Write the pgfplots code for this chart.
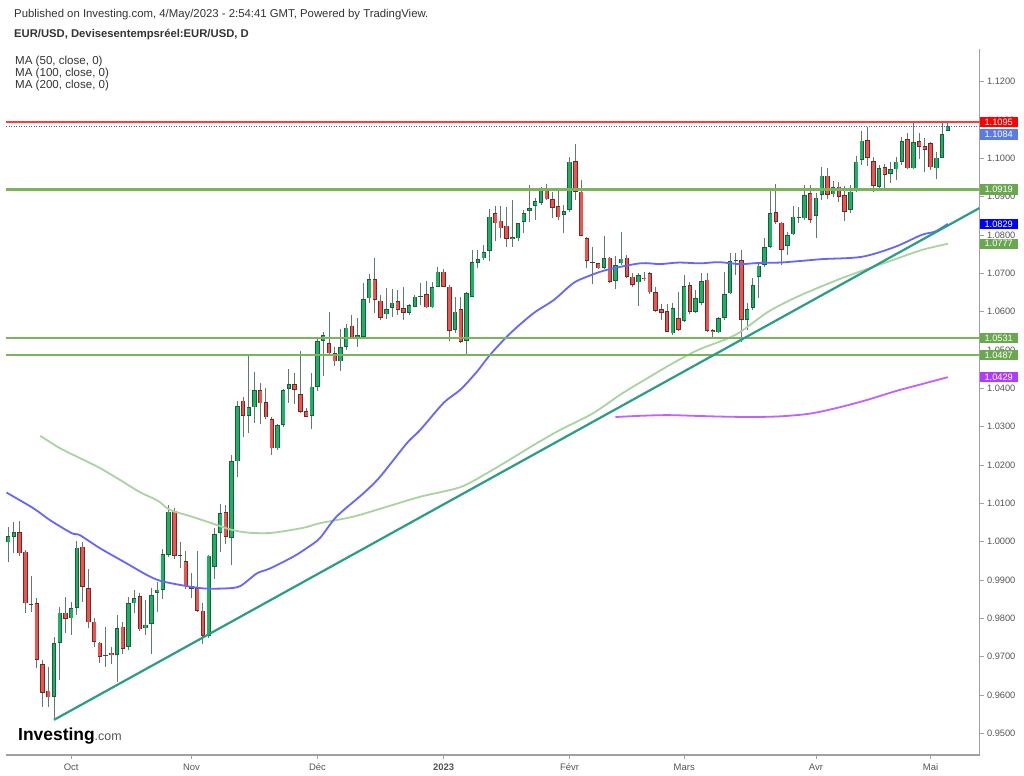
\documentclass[border=0pt]{standalone}
\usepackage{pgfplots}
\usepackage{pgfplotstable}
\pgfplotsset{compat=1.18}
\usepackage{fontspec}
\setmainfont{Liberation Sans}

\definecolor{upfill}{HTML}{1DB263}
\definecolor{upedge}{HTML}{1B5E3B}
\definecolor{dnfill}{HTML}{F0524D}
\definecolor{dnedge}{HTML}{6B2B29}
\definecolor{wick}{HTML}{5E7A6B}
\definecolor{ma50}{HTML}{6666FF}
\definecolor{ma100}{HTML}{A9D3A0}
\definecolor{ma200}{HTML}{C261FF}
\definecolor{trend}{HTML}{2A9D85}
\definecolor{hgreen}{HTML}{7AB55C}
\definecolor{hred}{HTML}{FF3B3B}
\definecolor{dotblue}{HTML}{3A5BFF}
\definecolor{lblgreen}{HTML}{6AA84F}
\definecolor{lblblue}{HTML}{5B7BE0}
\definecolor{lblpurple}{HTML}{B03CFF}
\definecolor{axgray}{HTML}{A0A0A0}
\definecolor{tickgray}{HTML}{555555}
\definecolor{txt}{HTML}{333333}

\pgfplotstableread{
i o h l c
0 0.9998 1.0039 0.9948 1.0015
1 1.0013 1.0052 0.9969 1.0024
8 0.9595 0.9752 0.9535 0.9735
9 0.9735 0.9830 0.9639 0.9815
11 0.9800 0.9843 0.9756 0.9826
12 0.9828 1.0002 0.9809 0.9984
17 0.9702 0.9778 0.9674 0.9705
19 0.9704 0.9809 0.9635 0.9775
21 0.9726 0.9855 0.9717 0.9839
22 0.9839 0.9875 0.9813 0.9852
24 0.9774 0.9848 0.9756 0.9783
25 0.9785 0.9878 0.9707 0.9861
26 0.9867 0.9895 0.9817 0.9875
27 0.9874 0.9980 0.9849 0.9967
28 0.9965 1.0096 0.9961 1.0078
35 0.9754 0.9965 0.9748 0.9963
36 0.9935 1.0035 0.9902 1.0020
37 1.0022 1.0098 0.9974 1.0074
39 1.0009 1.0226 0.9939 1.0209
40 1.0209 1.0367 1.0168 1.0354
42 1.0328 1.0485 1.0283 1.0350
43 1.0350 1.0442 1.0309 1.0396
47 1.0243 1.0307 1.0239 1.0303
48 1.0304 1.0399 1.0300 1.0396
49 1.0398 1.0450 1.0361 1.0410
53 1.0328 1.0439 1.0293 1.0404
54 1.0404 1.0535 1.0393 1.0523
55 1.0524 1.0548 1.0432 1.0539
58 1.0470 1.0554 1.0446 1.0507
59 1.0509 1.0568 1.0500 1.0558
61 1.0532 1.0583 1.0509 1.0539
62 1.0535 1.0674 1.0533 1.0632
63 1.0635 1.0698 1.0623 1.0684
66 1.0593 1.0661 1.0580 1.0606
67 1.0609 1.0658 1.0587 1.0623
70 1.0597 1.0620 1.0591 1.0617
71 1.0613 1.0643 1.0611 1.0639
72 1.0639 1.0674 1.0617 1.0641
74 1.0611 1.0678 1.0609 1.0663
75 1.0665 1.0717 1.0663 1.0704
78 1.0552 1.0639 1.0543 1.0600
80 1.0524 1.0652 1.0487 1.0648
81 1.0639 1.0762 1.0637 1.0729
82 1.0728 1.0760 1.0714 1.0736
83 1.0739 1.0774 1.0735 1.0756
84 1.0759 1.0869 1.0733 1.0848
88 1.0790 1.0891 1.0769 1.0794
89 1.0791 1.0832 1.0783 1.0830
90 1.0835 1.0865 1.0804 1.0856
91 1.0863 1.0930 1.0835 1.0870
92 1.0876 1.0896 1.0839 1.0889
93 1.0883 1.0926 1.0878 1.0917
97 1.0852 1.0878 1.0804 1.0863
98 1.0865 1.1004 1.0861 1.0991
104 1.0715 1.0796 1.0710 1.0739
106 1.0681 1.0745 1.0658 1.0722
107 1.0726 1.0809 1.0722 1.0738
110 1.0676 1.0700 1.0615 1.0696
116 1.0543 1.0622 1.0539 1.0609
118 1.0576 1.0696 1.0574 1.0667
120 1.0600 1.0656 1.0596 1.0635
121 1.0622 1.0700 1.0617 1.0680
124 1.0546 1.0587 1.0544 1.0583
125 1.0583 1.0703 1.0578 1.0645
126 1.0648 1.0752 1.0645 1.0732
127 1.0732 1.0752 1.0696 1.0734
129 1.0578 1.0622 1.0552 1.0607
130 1.0609 1.0687 1.0604 1.0669
131 1.0690 1.0723 1.0635 1.0720
132 1.0722 1.0791 1.0717 1.0769
133 1.0769 1.0917 1.0767 1.0856
136 1.0771 1.0809 1.0748 1.0800
137 1.0802 1.0876 1.0800 1.0848
138 1.0846 1.0874 1.0830 1.0848
139 1.0843 1.0930 1.0839 1.0904
141 1.0850 1.0909 1.0791 1.0897
142 1.0904 1.0978 1.0890 1.0955
144 1.0906 1.0942 1.0898 1.0924
147 1.0865 1.0930 1.0856 1.0913
148 1.0915 1.1006 1.0913 1.0991
149 1.0996 1.1072 1.0983 1.1046
152 1.0926 1.0983 1.0922 1.0974
154 1.0959 1.0991 1.0936 1.0971
155 1.0971 1.1004 1.0943 1.0991
156 1.0991 1.1056 1.0983 1.1045
158 1.0974 1.1097 1.0971 1.1043
162 1.0974 1.1017 1.0945 1.1002
163 1.1002 1.1096 1.1000 1.1063
164 1.1071 1.1091 1.1070 1.1084
}\upc

\pgfplotstableread{
i o h l c
2 1.0024 1.0055 0.9962 0.9969
3 0.9974 0.9978 0.9815 0.9839
4 0.9838 0.9909 0.9817 0.9836
5 0.9839 0.9852 0.9669 0.9691
6 0.9681 0.9691 0.9569 0.9606
7 0.9611 0.9672 0.9568 0.9594
10 0.9815 0.9855 0.9761 0.9798
13 0.9987 1.0000 0.9843 0.9882
14 0.9878 0.9928 0.9774 0.9789
15 0.9791 0.9800 0.9726 0.9739
16 0.9736 0.9739 0.9684 0.9700
18 0.9710 0.9726 0.9682 0.9703
20 0.9778 0.9791 0.9707 0.9721
23 0.9858 0.9867 0.9768 0.9771
29 1.0080 1.0087 0.9955 0.9963
30 0.9966 1.0000 0.9930 0.9963
31 0.9949 0.9976 0.9876 0.9883
32 0.9884 0.9917 0.9852 0.9876
33 0.9878 0.9976 0.9817 0.9820
34 0.9820 0.9839 0.9733 0.9754
38 1.0076 1.0096 0.9994 1.0013
41 1.0368 1.0378 1.0274 1.0328
44 1.0396 1.0413 1.0307 1.0361
45 1.0363 1.0400 1.0320 1.0324
46 1.0319 1.0326 1.0226 1.0243
50 1.0410 1.0439 1.0359 1.0396
51 1.0384 1.0498 1.0335 1.0339
52 1.0341 1.0348 1.0324 1.0326
56 1.0517 1.0600 1.0483 1.0491
57 1.0491 1.0509 1.0458 1.0470
60 1.0563 1.0591 1.0530 1.0533
64 1.0684 1.0739 1.0596 1.0630
65 1.0629 1.0643 1.0578 1.0584
68 1.0628 1.0657 1.0591 1.0604
69 1.0609 1.0663 1.0578 1.0596
73 1.0645 1.0681 1.0609 1.0611
76 1.0704 1.0710 1.0663 1.0665
77 1.0665 1.0670 1.0524 1.0550
79 1.0606 1.0639 1.0519 1.0522
85 1.0856 1.0876 1.0783 1.0830
86 1.0837 1.0876 1.0791 1.0817
87 1.0824 1.0872 1.0769 1.0789
94 1.0919 1.0933 1.0891 1.0893
95 1.0894 1.0913 1.0843 1.0870
96 1.0876 1.0916 1.0839 1.0846
99 1.0993 1.1037 1.0891 1.0913
100 1.0913 1.0943 1.0796 1.0797
101 1.0791 1.0794 1.0713 1.0732
102 1.0729 1.0769 1.0672 1.0727
103 1.0726 1.0728 1.0710 1.0713
105 1.0741 1.0743 1.0674 1.0678
108 1.0741 1.0748 1.0689 1.0691
109 1.0691 1.0700 1.0665 1.0669
111 1.0689 1.0704 1.0681 1.0684
112 1.0700 1.0703 1.0645 1.0650
113 1.0650 1.0663 1.0598 1.0602
114 1.0606 1.0619 1.0578 1.0597
115 1.0602 1.0619 1.0546 1.0548
117 1.0583 1.0650 1.0549 1.0552
119 1.0669 1.0676 1.0593 1.0600
122 1.0683 1.0700 1.0548 1.0549
123 1.0552 1.0555 1.0529 1.0546
128 1.0735 1.0761 1.0522 1.0578
134 1.0859 1.0932 1.0828 1.0835
135 1.0832 1.0835 1.0722 1.0761
140 1.0909 1.0930 1.0830 1.0839
143 1.0955 1.0974 1.0893 1.0904
145 1.0926 1.0939 1.0887 1.0900
146 1.0904 1.0928 1.0836 1.0861
150 1.1048 1.1081 1.0980 1.1002
151 1.0993 1.1004 1.0913 1.0928
153 1.0976 1.0984 1.0922 1.0956
157 1.1050 1.1065 1.0971 1.0974
159 1.1045 1.1067 1.0997 1.1030
160 1.1032 1.1052 1.0965 1.1022
161 1.1039 1.1043 1.0970 1.0976
}\dnc

\pgfplotstableread{
i p
-0.3 1.0128
4.4 1.0087
7.3 1.0056
11.1 1.0022
12.5 1.0017
16.0 0.9983
20.7 0.9943
24.2 0.9913
26.5 0.9898
30.0 0.9887
34.0 0.9878
38.1 0.9878
40.5 0.9884
43.4 0.9917
45.7 0.9930
49.8 0.9961
52.1 0.9983
54.4 1.0009
57.3 1.0065
62.0 1.0126
64.9 1.0169
69.6 1.0257
71.9 1.0291
76.0 1.0362
78.9 1.0396
81.8 1.0443
84.1 1.0487
87.6 1.0543
91.7 1.0596
95.2 1.0630
98.6 1.0674
101.0 1.0691
104.5 1.0709
110.3 1.0726
113.8 1.0724
117.0 1.0728
120.8 1.0726
124.0 1.0729
127.7 1.0724
131.0 1.0727
134.7 1.0728
138.2 1.0732
142.1 1.0737
149.0 1.0743
154.8 1.0769
159.4 1.0800
161.8 1.0809
164.0 1.0829
}\maA

\pgfplotstableread{
i p
5.6 1.0276
9.0 1.0244
12.5 1.0218
16.0 1.0192
19.5 1.0161
23.0 1.0129
26.2 1.0106
28.2 1.0083
32.3 1.0064
36.5 1.0043
39.2 1.0030
42.2 1.0023
46.1 1.0023
51.5 1.0036
54.4 1.0048
60.2 1.0065
66.1 1.0091
71.9 1.0117
78.9 1.0142
83.5 1.0178
87.0 1.0209
92.3 1.0257
96.3 1.0291
102.1 1.0335
106.8 1.0383
110.3 1.0415
115.5 1.0461
120.4 1.0500
126.9 1.0539
132.7 1.0600
138.2 1.0642
146.0 1.0690
154.5 1.0735
159.5 1.0761
164.0 1.0777
}\maB

\pgfplotstableread{
i p
106 1.0325
110 1.0328
115 1.0330
120 1.0328
125 1.0326
130 1.0325
135 1.0327
140 1.0334
145 1.0350
150 1.0370
155 1.0393
160 1.0413
164 1.0429
}\maC

\begin{document}
\begin{tikzpicture}[x=1bp,y=1bp]
\useasboundingbox (0,0) rectangle (1024,776);
\fill[white] (0,0) rectangle (1024,776);

\node[anchor=base west, inner sep=0pt, text=txt, font=\fontsize{11.4}{13}\selectfont] at (14,758) {Published on Investing.com, 4/May/2023 - 2:54:41 GMT, Powered by TradingView.};
\node[anchor=base west, inner sep=0pt, text=txt, font=\fontsize{11.3}{13}\selectfont\bfseries] at (14,738) {EUR/USD, Devisesentempsréel:EUR/USD, D};
\node[anchor=base west, inner sep=0pt, text=txt, font=\fontsize{11.6}{13}\selectfont] at (15,711) {MA (50, close, 0)};
\node[anchor=base west, inner sep=0pt, text=txt, font=\fontsize{11.6}{13}\selectfont] at (15,699) {MA (100, close, 0)};
\node[anchor=base west, inner sep=0pt, text=txt, font=\fontsize{11.6}{13}\selectfont] at (15,687) {MA (200, close, 0)};

\begin{axis}[
  at={(6bp,21bp)}, anchor=south west,
  scale only axis, width=973.5bp, height=705.7bp,
  xmin=-0.38, xmax=169.54, ymin=0.94433, ymax=1.12844,
  axis x line=bottom, axis y line=right,
  axis line style={-, draw=axgray, line width=1.3bp},
  tick align=outside, major tick length=4bp,
  tick style={draw=axgray, line width=0.8bp},
  xtick={11,32,54,76,98,118,141,161},
  xticklabels={Oct,Nov,Déc,\textbf{2023},Févr,Mars,Avr,Mai},
  xticklabel style={font=\fontsize{9.5}{11}\selectfont, text=tickgray, yshift=-1bp},
  ytick={0.95,0.96,0.97,0.98,0.99,1.00,1.01,1.02,1.03,1.04,1.05,1.06,1.07,1.08,1.09,1.10,1.11,1.12},
  yticklabels={0.9500,0.9600,0.9700,0.9800,0.9900,1.0000,1.0100,1.0200,1.0300,1.0400,1.0500,1.0600,1.0700,1.0800,1.0900,1.1000,1.1100,1.1200},
  yticklabel style={font=\fontsize{9.3}{11}\selectfont, text=tickgray},
]
% wicks
\addplot[wick, line width=1bp, quiver={u=0, v={\thisrow{h}-\thisrow{l}}}] table[x=i, y=l] {\upc};
\addplot[wick, line width=1bp, quiver={u=0, v={\thisrow{h}-\thisrow{l}}}] table[x=i, y=l] {\dnc};
% bodies: outline
\addplot[upedge, line width=4.4bp, quiver={u=0, v={\thisrow{c}-\thisrow{o}}}] table[x=i, y=o] {\upc};
\addplot[dnedge, line width=4.4bp, quiver={u=0, v={\thisrow{c}-\thisrow{o}}}] table[x=i, y=o] {\dnc};
% bodies: fill
\addplot[upfill, line width=2.8bp, quiver={u=0, v={max(\thisrow{c}-\thisrow{o}-0.00036,0)}}] table[x=i, y expr={\thisrow{o}+0.00018}] {\upc};
\addplot[dnfill, line width=2.8bp, quiver={u=0, v={min(\thisrow{c}-\thisrow{o}+0.00036,0)}}] table[x=i, y expr={\thisrow{o}-0.00018}] {\dnc};
% moving averages
\addplot[ma100, line width=1.8bp, smooth] table[x=i, y=p] {\maB};
\addplot[ma50, line width=1.8bp, smooth] table[x=i, y=p] {\maA};
\addplot[ma200, line width=1.8bp, smooth] table[x=i, y=p] {\maC};
% drawings
\addplot[hgreen, line width=2.4bp] coordinates {(-0.38,1.0919) (169.54,1.0919)};
\addplot[hgreen, line width=2.4bp] coordinates {(-0.38,1.0531) (169.54,1.0531)};
\addplot[hgreen, line width=2.4bp] coordinates {(-0.38,1.0487) (169.54,1.0487)};
\addplot[hred, line width=2.6bp] coordinates {(-0.38,1.1095) (169.54,1.1095)};
\addplot[dotblue, line width=0.7bp, dash pattern=on 1bp off 1.5bp] coordinates {(-0.38,1.1084) (169.54,1.1084)};
\addplot[trend, line width=2.2bp] coordinates {(8,0.9535) (169.5,1.0870)};

\coordinate (L1095) at (axis cs:169.54,1.1095);
\coordinate (L1084) at (axis cs:169.54,1.1084);
\coordinate (L0919) at (axis cs:169.54,1.0919);
\coordinate (L0829) at (axis cs:169.54,1.0829);
\coordinate (L0777) at (axis cs:169.54,1.0777);
\coordinate (L0531) at (axis cs:169.54,1.0531);
\coordinate (L0487) at (axis cs:169.54,1.0487);
\coordinate (L0429) at (axis cs:169.54,1.0429);
\end{axis}

\tikzset{pricebox/.style={anchor=west, inner sep=0pt, minimum width=38bp, minimum height=10.5bp, text=white, font=\fontsize{9.3}{10}\selectfont}}
\node[pricebox, fill=red] at (L1095) {1.1095};
\node[pricebox, fill=lblblue, yshift=-8.5bp] at (L1084) {1.1084};
\node[pricebox, fill=lblgreen] at (L0919) {1.0919};
\node[pricebox, fill=blue] at (L0829) {1.0829};
\node[pricebox, fill=lblgreen] at (L0777) {1.0777};
\node[pricebox, fill=lblgreen] at (L0531) {1.0531};
\node[pricebox, fill=lblgreen] at (L0487) {1.0487};
\node[pricebox, fill=lblpurple] at (L0429) {1.0429};

% logo
\node[anchor=base west, inner sep=0pt] at (18,35) {\fontsize{17.5}{18}\selectfont\bfseries Investing\fontsize{12.5}{14}\mdseries\color{tickgray}.com};
\end{tikzpicture}
\end{document}
